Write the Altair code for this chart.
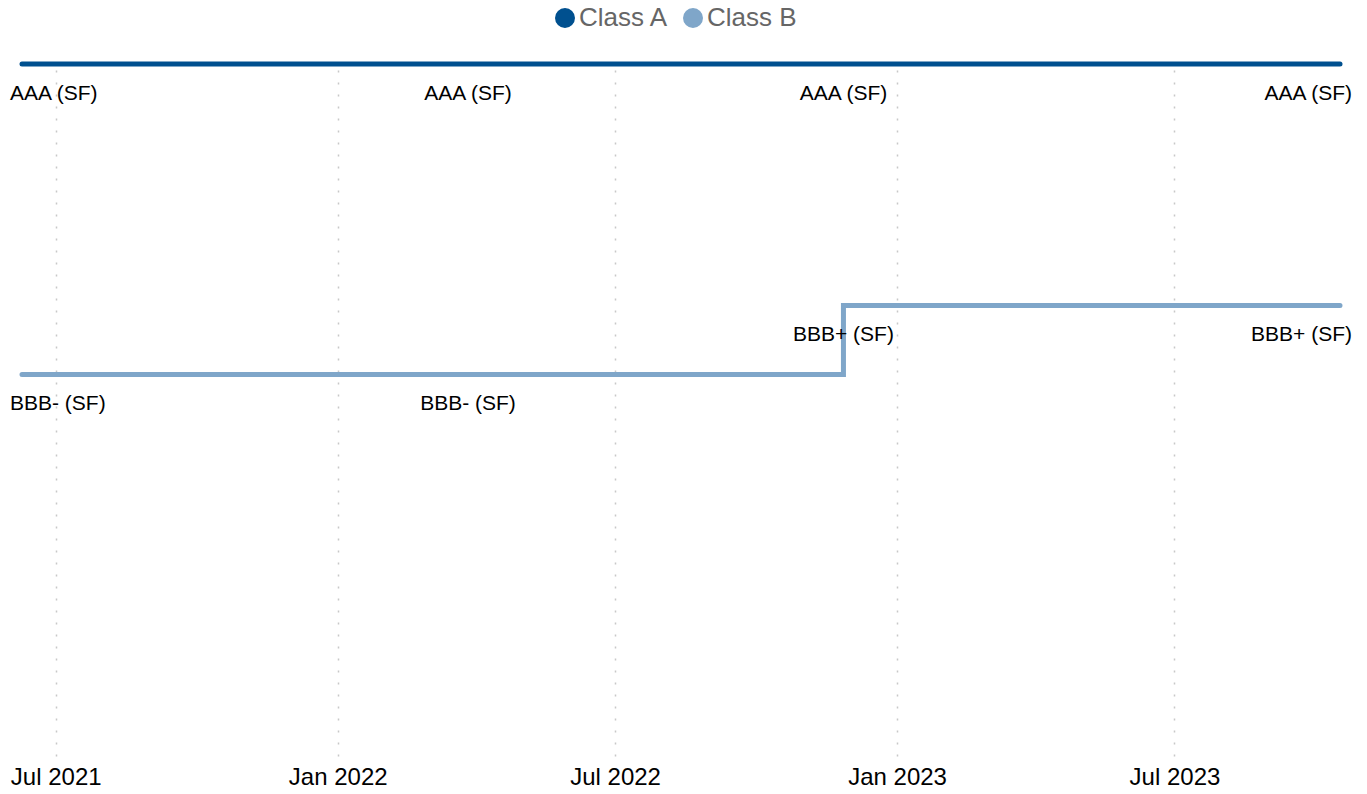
import altair as alt
import pandas as pd

# ---- data ----
dates = ["2021-06-09", "2022-03-27", "2022-11-27", "2023-10-17"]
class_a = [1, 1, 1, 1]          # AAA (SF)
class_b = [10, 10, 8, 8]        # BBB- (SF) -> BBB+ (SF)
labels_a = ["AAA (SF)", "AAA (SF)", "AAA (SF)", "AAA (SF)"]
labels_b = ["BBB- (SF)", "BBB- (SF)", "BBB+ (SF)", "BBB+ (SF)"]
series = ["Class A", "Class B"]
colors = ["#00508f", "#7fa6c9"]
label_pos = ["left", "center", "center", "right"]

rows = []
for d, a, b, la, lb, p in zip(dates, class_a, class_b, labels_a, labels_b, label_pos):
    rows.append({"date": d, "value": a, "cls": "Class A", "label": la, "pos": p})
    rows.append({"date": d, "value": b, "cls": "Class B", "label": lb, "pos": p})
df = pd.DataFrame(rows)

FONT = "Liberation Sans"

x_enc = alt.X(
    "date:T",
    scale=alt.Scale(type="utc", nice=False),
    axis=alt.Axis(
        title=None,
        values=[
            alt.DateTime(year=2021, month=7, date=1, utc=True),
            alt.DateTime(year=2022, month=1, date=1, utc=True),
            alt.DateTime(year=2022, month=7, date=1, utc=True),
            alt.DateTime(year=2023, month=1, date=1, utc=True),
            alt.DateTime(year=2023, month=7, date=1, utc=True),
        ],
        format="%b %Y",
        labelFont=FONT,
        labelFontSize=24,
        labelColor="#000000",
        labelPadding=9,
        domain=False,
        ticks=False,
        grid=True,
        gridDash=[2, 10],
        gridColor="#c8c8c8",
        gridWidth=1.5,
    ),
)
y_enc = alt.Y(
    "value:Q",
    scale=alt.Scale(domain=[1, 21.06], reverse=True, nice=False, zero=False),
    axis=None,
)
color_enc = alt.Color(
    "cls:N",
    scale=alt.Scale(domain=series, range=colors),
    legend=alt.Legend(
        title=None,
        orient="none",
        direction="horizontal",
        legendX=530,
        legendY=-59,
        symbolType="circle",
        symbolSize=100,
        symbolStrokeWidth=10,
        symbolOpacity=1,
        labelFont=FONT,
        labelFontSize=26,
        labelColor="#666666",
        labelOffset=1,
        columnPadding=-1,
    ),
)

base = alt.Chart(df)

lines = base.mark_line(
    interpolate="step-after", strokeWidth=5, strokeCap="round"
).encode(x=x_enc, y=y_enc, color=color_enc)


def text_layer(pos, align, dx):
    return base.transform_filter(alt.datum.pos == pos).mark_text(
        align=align, baseline="middle", dx=dx, dy=30,
        font=FONT, fontSize=21, color="#000000",
    ).encode(x="date:T", y="value:Q", text="label:N")


chart = alt.layer(
    lines,
    text_layer("left", "left", -12),
    text_layer("center", "center", 0),
    text_layer("right", "right", 12),
).properties(
    width=1318,
    height=692,
    autosize=alt.AutoSizeParams(type="none"),
    padding={"left": 14, "top": 56, "right": 15, "bottom": 30},
).configure_view(stroke=None)

chart.save("out.html", embed_options={"renderer": "svg", "actions": False})
